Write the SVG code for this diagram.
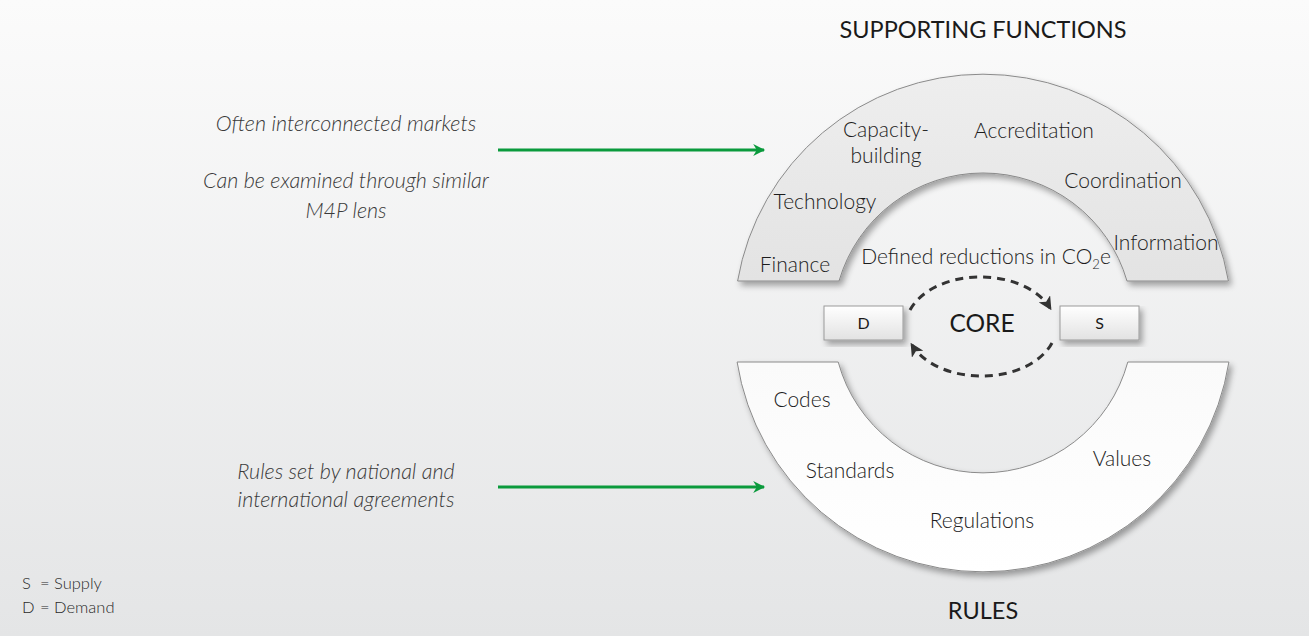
<svg xmlns="http://www.w3.org/2000/svg" width="1309" height="636" viewBox="0 0 1309 636">
<defs>
<linearGradient id="bg" x1="0" y1="0" x2="0" y2="1">
<stop offset="0" stop-color="#fbfbfb"/>
<stop offset="1" stop-color="#e4e5e6"/>
</linearGradient>
<linearGradient id="topArcFill" x1="0" y1="0" x2="0" y2="1">
<stop offset="0" stop-color="#eeeeee"/>
<stop offset="1" stop-color="#e3e3e3"/>
</linearGradient>
<linearGradient id="botArcFill" x1="0" y1="0" x2="0" y2="1">
<stop offset="0" stop-color="#fafafa"/>
<stop offset="1" stop-color="#ffffff"/>
</linearGradient>
<linearGradient id="boxFill" x1="0" y1="0" x2="0" y2="1">
<stop offset="0" stop-color="#ffffff"/>
<stop offset="1" stop-color="#e2e2e2"/>
</linearGradient>
<filter id="shadow" x="-10%" y="-10%" width="125%" height="130%">
<feGaussianBlur in="SourceAlpha" stdDeviation="3"/>
<feOffset dx="3" dy="4" result="b"/>
<feComponentTransfer><feFuncA type="linear" slope="0.35"/></feComponentTransfer>
<feMerge><feMergeNode/><feMergeNode in="SourceGraphic"/></feMerge>
</filter>
<marker id="greenHead" viewBox="0 0 10 10" refX="9" refY="5" markerWidth="5" markerHeight="4" orient="auto" markerUnits="strokeWidth">
<path d="M0,0 L10,5 L0,10 L3,5 Z" fill="#0a9a3c"/>
</marker>
<marker id="darkHead" viewBox="0 0 10 10" refX="8" refY="5" markerWidth="4.5" markerHeight="4.5" orient="auto" markerUnits="strokeWidth">
<path d="M0,0 L10,5 L0,10 L2.5,5 Z" fill="#333333"/>
</marker>
</defs>
<style>
.lbl{font-family:Lato,"Open Sans","Liberation Sans",sans-serif;font-size:21px;font-weight:300;fill:#1c1c1c}
.title{font-family:Lato,"Open Sans","Liberation Sans",sans-serif;font-size:23.5px;fill:#1a1a1a;text-anchor:middle}
.note{font-family:Lato,"Open Sans","Liberation Sans",sans-serif;font-size:21.5px;font-weight:300;font-style:italic;fill:#3a3a3a;text-anchor:middle}
.legend{font-family:Lato,"Open Sans","Liberation Sans",sans-serif;font-size:16.5px;font-weight:300;fill:#2a2a2a}
.arc{stroke:#8a8a8a;stroke-width:1}
.box{fill:url(#boxFill);stroke:#9a9a9a;stroke-width:1}
.boxtxt{font-family:Lato,"Open Sans","Liberation Sans",sans-serif;font-size:16px;fill:#1a1a1a;text-anchor:middle}
.green{stroke:#0a9a3c;stroke-width:3;fill:none}
.dash{stroke:#333333;stroke-width:3;fill:none;stroke-dasharray:8 6}
</style>
<rect x="0" y="0" width="1309" height="636" fill="url(#bg)"/>

<g id="supporting-functions">
<path class="arc" d="M 737.6 281 A 249 249 0 0 1 1228.4 281 L 1127 281 A 150 150 0 0 0 839 281 Z" fill="url(#topArcFill)" filter="url(#shadow)"/>
<text class="title" x="983" y="38">SUPPORTING FUNCTIONS</text>
<text class="lbl" x="886" y="137" text-anchor="middle">Capacity-</text>
<text class="lbl" x="886" y="163" text-anchor="middle">building</text>
<text class="lbl" x="1034" y="138" text-anchor="middle">Accreditation</text>
<text class="lbl" x="825" y="209" text-anchor="middle">Technology</text>
<text class="lbl" x="1123" y="188" text-anchor="middle">Coordination</text>
<text class="lbl" x="1166" y="250" text-anchor="middle">Information</text>
<text class="lbl" x="795" y="272" text-anchor="middle">Finance</text>
</g>

<g id="rules">
<path class="arc" d="M 737.1 362 L 838.2 362 A 150 150 0 0 0 1127.8 362 L 1228.9 362 A 249 249 0 0 1 737.1 362 Z" fill="url(#botArcFill)" filter="url(#shadow)"/>
<text class="title" x="983" y="619">RULES</text>
<text class="lbl" x="802" y="407" text-anchor="middle">Codes</text>
<text class="lbl" x="850" y="478" text-anchor="middle">Standards</text>
<text class="lbl" x="1122" y="466" text-anchor="middle">Values</text>
<text class="lbl" x="982" y="528" text-anchor="middle">Regulations</text>
</g>

<g id="core">
<text class="lbl" x="986" y="264" text-anchor="middle">Defined reductions in CO<tspan font-size="13" dy="5">2</tspan><tspan dy="-5">e</tspan></text>
<text class="title" x="982" y="332" style="font-size:24.5px">CORE</text>
</g>

<g id="demand">
<rect class="box" x="824" y="306" width="79" height="34" filter="url(#shadow)"/>
<text class="boxtxt" x="863.5" y="329">D</text>
</g>

<g id="supply">
<rect class="box" x="1060" y="306" width="79" height="34" filter="url(#shadow)"/>
<text class="boxtxt" x="1099.5" y="329">S</text>
</g>

<g id="notes">
<text class="note" x="346" y="131">Often interconnected markets</text>
<text class="note" x="346" y="188">Can be examined through similar</text>
<text class="note" x="346" y="218">M4P lens</text>
<text class="note" x="346" y="479">Rules set by national and</text>
<text class="note" x="346" y="507">international agreements</text>
</g>

<g id="legend">
<text class="legend" x="22" y="589">S<tspan x="40">= Supply</tspan></text>
<text class="legend" x="22" y="613">D<tspan x="40">= Demand</tspan></text>
</g>

<g id="connectors">
<line class="green" x1="498" y1="150" x2="764" y2="150" marker-end="url(#greenHead)"/>
<line class="green" x1="498" y1="487" x2="764" y2="487" marker-end="url(#greenHead)"/>
<path class="dash" d="M 910 310 A 75 50 0 0 1 1050 308" marker-end="url(#darkHead)"/>
<path class="dash" d="M 1052 343 A 75 50 0 0 1 912 345" marker-end="url(#darkHead)"/>
</g>
</svg>
